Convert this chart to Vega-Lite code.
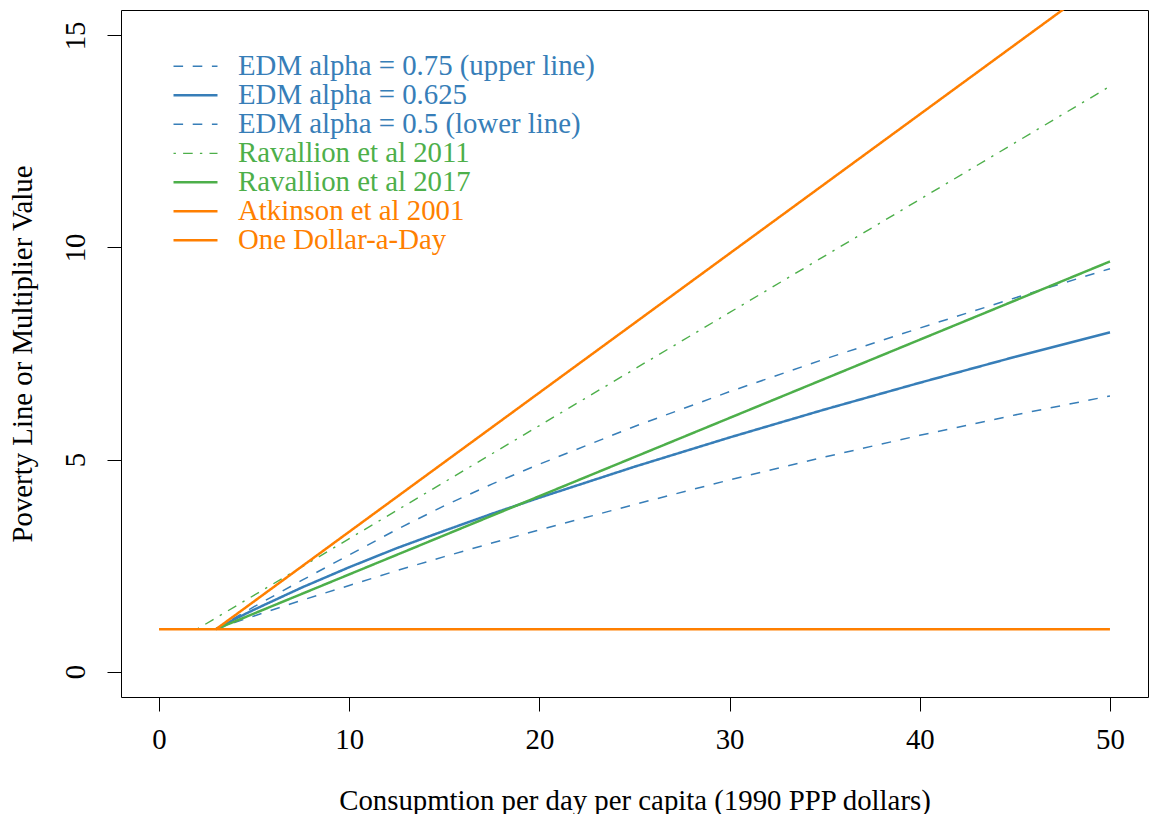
{
  "$schema": "https://vega.github.io/schema/vega-lite/v6.json",
  "width": 1027,
  "height": 687,
  "autosize": {"type": "none"},
  "padding": {"left": 121, "top": 10, "right": 3, "bottom": 117},
  "background": "white",
  "config": {
    "view": {"stroke": "black", "strokeWidth": 1},
    "font": "Liberation Serif",
    "legend": {"rowPadding": -2},
    "axis": {
      "labelFont": "Liberation Serif",
      "labelFontSize": 28.8,
      "labelColor": "black",
      "titleFont": "Liberation Serif",
      "titleFontSize": 28.8,
      "titleFontWeight": "normal",
      "titleColor": "black",
      "tickColor": "black",
      "tickSize": 14,
      "tickWidth": 1,
      "domain": false,
      "grid": false
    }
  },
  "data": {
    "values": [
      {"series": "EDM alpha = 0.75 (upper line)", "x": 3, "y": 1.0},
      {"series": "EDM alpha = 0.75 (upper line)", "x": 4, "y": 1.27},
      {"series": "EDM alpha = 0.75 (upper line)", "x": 5, "y": 1.53},
      {"series": "EDM alpha = 0.75 (upper line)", "x": 7.5, "y": 2.15},
      {"series": "EDM alpha = 0.75 (upper line)", "x": 10, "y": 2.75},
      {"series": "EDM alpha = 0.75 (upper line)", "x": 12.5, "y": 3.35},
      {"series": "EDM alpha = 0.75 (upper line)", "x": 15, "y": 3.91},
      {"series": "EDM alpha = 0.75 (upper line)", "x": 17.5, "y": 4.42},
      {"series": "EDM alpha = 0.75 (upper line)", "x": 20, "y": 4.89},
      {"series": "EDM alpha = 0.75 (upper line)", "x": 25, "y": 5.78},
      {"series": "EDM alpha = 0.75 (upper line)", "x": 30, "y": 6.6},
      {"series": "EDM alpha = 0.75 (upper line)", "x": 35, "y": 7.37},
      {"series": "EDM alpha = 0.75 (upper line)", "x": 40, "y": 8.1},
      {"series": "EDM alpha = 0.75 (upper line)", "x": 45, "y": 8.81},
      {"series": "EDM alpha = 0.75 (upper line)", "x": 50, "y": 9.5},
      {"series": "EDM alpha = 0.625", "x": 3, "y": 1.0},
      {"series": "EDM alpha = 0.625", "x": 4, "y": 1.24},
      {"series": "EDM alpha = 0.625", "x": 5, "y": 1.46},
      {"series": "EDM alpha = 0.625", "x": 7.5, "y": 1.98},
      {"series": "EDM alpha = 0.625", "x": 10, "y": 2.46},
      {"series": "EDM alpha = 0.625", "x": 12.5, "y": 2.91},
      {"series": "EDM alpha = 0.625", "x": 15, "y": 3.32},
      {"series": "EDM alpha = 0.625", "x": 17.5, "y": 3.72},
      {"series": "EDM alpha = 0.625", "x": 20, "y": 4.1},
      {"series": "EDM alpha = 0.625", "x": 25, "y": 4.83},
      {"series": "EDM alpha = 0.625", "x": 30, "y": 5.52},
      {"series": "EDM alpha = 0.625", "x": 35, "y": 6.18},
      {"series": "EDM alpha = 0.625", "x": 40, "y": 6.81},
      {"series": "EDM alpha = 0.625", "x": 45, "y": 7.42},
      {"series": "EDM alpha = 0.625", "x": 50, "y": 8.0},
      {"series": "EDM alpha = 0.5 (lower line)", "x": 3, "y": 1.0},
      {"series": "EDM alpha = 0.5 (lower line)", "x": 4, "y": 1.16},
      {"series": "EDM alpha = 0.5 (lower line)", "x": 5, "y": 1.31},
      {"series": "EDM alpha = 0.5 (lower line)", "x": 7.5, "y": 1.68},
      {"series": "EDM alpha = 0.5 (lower line)", "x": 10, "y": 2.03},
      {"series": "EDM alpha = 0.5 (lower line)", "x": 12.5, "y": 2.38},
      {"series": "EDM alpha = 0.5 (lower line)", "x": 15, "y": 2.71},
      {"series": "EDM alpha = 0.5 (lower line)", "x": 17.5, "y": 3.03},
      {"series": "EDM alpha = 0.5 (lower line)", "x": 20, "y": 3.34},
      {"series": "EDM alpha = 0.5 (lower line)", "x": 25, "y": 3.94},
      {"series": "EDM alpha = 0.5 (lower line)", "x": 30, "y": 4.52},
      {"series": "EDM alpha = 0.5 (lower line)", "x": 35, "y": 5.06},
      {"series": "EDM alpha = 0.5 (lower line)", "x": 40, "y": 5.57},
      {"series": "EDM alpha = 0.5 (lower line)", "x": 45, "y": 6.05},
      {"series": "EDM alpha = 0.5 (lower line)", "x": 50, "y": 6.5},
      {"series": "Ravallion et al 2011", "x": 2, "y": 1.0},
      {"series": "Ravallion et al 2011", "x": 50, "y": 13.8},
      {"series": "Ravallion et al 2017", "x": 3, "y": 1.0},
      {"series": "Ravallion et al 2017", "x": 50, "y": 9.67},
      {"series": "Atkinson et al 2001", "x": 3, "y": 1.0},
      {"series": "Atkinson et al 2001", "x": 50, "y": 16.42},
      {"series": "One Dollar-a-Day", "x": 0, "y": 1.0},
      {"series": "One Dollar-a-Day", "x": 50, "y": 1.0}
    ]
  },
  "mark": {"type": "line", "clip": true},
  "encoding": {
    "x": {
      "field": "x",
      "type": "quantitative",
      "scale": {"domain": [-2, 52], "nice": false, "zero": false},
      "axis": {
        "values": [0, 10, 20, 30, 40, 50],
        "labelPadding": 14,
        "labelBaseline": "top",
        "title": "Consupmtion per day per capita (1990 PPP dollars)",
        "titleX": 513.5,
        "titleY": 103,
        "titleAlign": "center",
        "titleBaseline": "middle"
      }
    },
    "y": {
      "field": "y",
      "type": "quantitative",
      "scale": {"domain": [-0.6, 15.6], "nice": false, "zero": false},
      "axis": {
        "values": [0, 5, 10, 15],
        "labelAngle": 270,
        "labelAlign": "center",
        "labelBaseline": "middle",
        "labelPadding": 32,
        "title": "Poverty Line or Multiplier Value",
        "titleAngle": 270,
        "titleX": -99,
        "titleY": 343.5,
        "titleAlign": "center",
        "titleBaseline": "middle"
      }
    },
    "color": {
      "field": "series",
      "type": "nominal",
      "scale": {
        "domain": ["EDM alpha = 0.75 (upper line)", "EDM alpha = 0.625", "EDM alpha = 0.5 (lower line)", "Ravallion et al 2011", "Ravallion et al 2017", "Atkinson et al 2001", "One Dollar-a-Day"],
        "range": ["#377EB8", "#377EB8", "#377EB8", "#4DAF4A", "#4DAF4A", "#FF7F00", "#FF7F00"]
      },
      "legend": {
        "title": null,
        "orient": "none",
        "legendX": 51,
        "legendY": 43,
        "padding": 0,
        "clipHeight": 26.7,
        "symbolType": "stroke",
        "symbolSize": 1936,
        "labelOffset": 19,
        "labelFont": "Liberation Serif",
        "labelFontSize": 28.8,
        "labelLimit": 1000,
        "encode": {
          "labels": {"update": {"fill": {"signal": "scale('color', datum.value)"}}}
        }
      }
    },
    "strokeDash": {
      "field": "series",
      "type": "nominal",
      "scale": {
        "domain": ["EDM alpha = 0.75 (upper line)", "EDM alpha = 0.625", "EDM alpha = 0.5 (lower line)", "Ravallion et al 2011", "Ravallion et al 2017", "Atkinson et al 2001", "One Dollar-a-Day"],
        "range": [[9.6, 9.6], [1, 0], [9.6, 9.6], [2.4, 7.2, 9.6, 7.2], [1, 0], [1, 0], [1, 0]]
      }
    },
    "strokeWidth": {
      "field": "series",
      "type": "nominal",
      "scale": {
        "type": "ordinal",
        "domain": ["EDM alpha = 0.75 (upper line)", "EDM alpha = 0.625", "EDM alpha = 0.5 (lower line)", "Ravallion et al 2011", "Ravallion et al 2017", "Atkinson et al 2001", "One Dollar-a-Day"],
        "range": [1.5, 2.5, 1.5, 1.4, 2.5, 2.5, 2.5]
      }
    },
    "order": {"field": "x", "type": "quantitative"}
  }
}
